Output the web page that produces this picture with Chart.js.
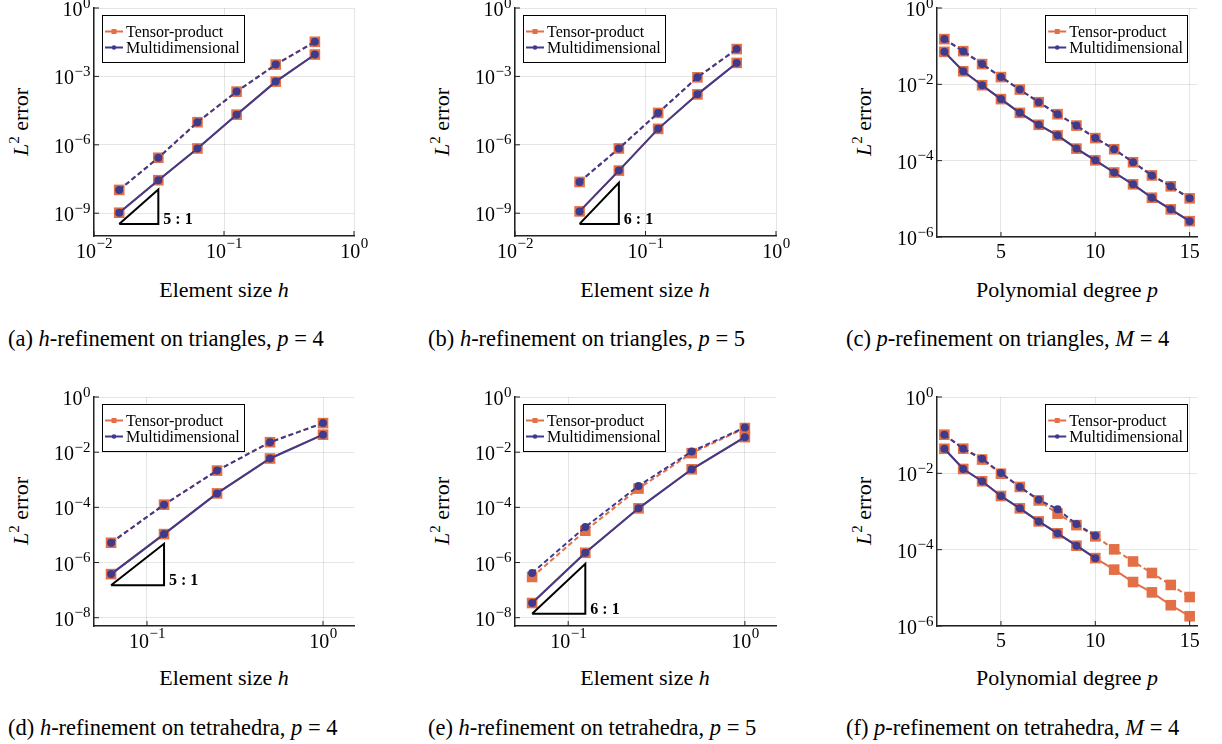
<!DOCTYPE html>
<html>
<head>
<meta charset="utf-8">
<script src="https://cdn.jsdelivr.net/npm/chart.js@4.4.0/dist/chart.umd.min.js"></script>
<style>
  body { margin: 0; background: #fff; width: 1222px; height: 744px; position: relative; overflow: hidden;
         font-family: "Liberation Serif", "Times New Roman", "DejaVu Serif", serif; color: #000; }
  canvas { position: absolute; }
  .lbl { position: absolute; white-space: nowrap; font-size: 22px; transform: translate(-50%, -50%); }
  .ylbl { transform: translate(-50%, -50%) rotate(-90deg); }
  .cap { position: absolute; white-space: nowrap; font-size: 22.5px; transform: translateY(-50%); }
  sup { font-size: 15px; }
</style>
</head>
<body>

<div class="lbl ylbl" style="left:20px;top:122px"><i>L</i><sup>2</sup> error</div>
<div class="lbl ylbl" style="left:441px;top:122px"><i>L</i><sup>2</sup> error</div>
<div class="lbl ylbl" style="left:863px;top:122px"><i>L</i><sup>2</sup> error</div>
<div class="lbl ylbl" style="left:20px;top:511px"><i>L</i><sup>2</sup> error</div>
<div class="lbl ylbl" style="left:441px;top:511px"><i>L</i><sup>2</sup> error</div>
<div class="lbl ylbl" style="left:863px;top:511px"><i>L</i><sup>2</sup> error</div>

<div class="lbl" style="left:224px;top:290px">Element size <i>h</i></div>
<div class="lbl" style="left:645px;top:290px">Element size <i>h</i></div>
<div class="lbl" style="left:1067px;top:290px">Polynomial degree <i>p</i></div>
<div class="lbl" style="left:224px;top:678px">Element size <i>h</i></div>
<div class="lbl" style="left:645px;top:678px">Element size <i>h</i></div>
<div class="lbl" style="left:1067px;top:678px">Polynomial degree <i>p</i></div>

<div class="cap" style="left:8px;top:339px">(a) <i>h</i>-refinement on triangles, <i>p</i> = 4</div>
<div class="cap" style="left:428px;top:339px">(b) <i>h</i>-refinement on triangles, <i>p</i> = 5</div>
<div class="cap" style="left:846px;top:339px">(c) <i>p</i>-refinement on triangles, <i>M</i> = 4</div>
<div class="cap" style="left:8px;top:728px">(d) <i>h</i>-refinement on tetrahedra, <i>p</i> = 4</div>
<div class="cap" style="left:428px;top:728px">(e) <i>h</i>-refinement on tetrahedra, <i>p</i> = 5</div>
<div class="cap" style="left:846px;top:728px">(f) <i>p</i>-refinement on tetrahedra, <i>M</i> = 4</div>

<canvas id="chartA"></canvas>
<canvas id="chartB"></canvas>
<canvas id="chartC"></canvas>
<canvas id="chartD"></canvas>
<canvas id="chartE"></canvas>
<canvas id="chartF"></canvas>

<script>
const orange = '#E36F47';
const purple = '#3F3B8C';
const legendLabels = ['Tensor-product', 'Multidimensional'];
const serif = '"Liberation Serif", "Times New Roman", "DejaVu Serif", serif';

// mesh sizes and polynomial degrees
const hTri4 = [1/64, 1/32, 1/16, 1/8, 1/4, 1/2];
const hTri5 = [1/32, 1/16, 1/8, 1/4, 1/2];
const hTet = [1/16, 1/8, 1/4, 1/2, 1];
const degrees = [2, 3, 4, 5, 6, 7, 8, 9, 10, 11, 12, 13, 14, 15];
const degreesTet = [2, 3, 4, 5, 6, 7, 8, 9, 10];

// (a) triangles, p = 4
const aSolidTensor = [1.05e-9, 2.8e-8, 6.9e-7, 2.1e-5, 5.9e-4, 9.1e-3];
const aSolidMulti  = [1.05e-9, 2.8e-8, 6.9e-7, 2.1e-5, 5.9e-4, 9.1e-3];
const aDashTensor  = [1.05e-8, 2.7e-7, 9.8e-6, 2.15e-4, 3.3e-3, 3.3e-2];
const aDashMulti   = [1.05e-8, 2.7e-7, 9.8e-6, 2.15e-4, 3.3e-3, 3.3e-2];

// (b) triangles, p = 5
const bSolidTensor = [1.2e-9, 7.4e-8, 5.0e-6, 1.63e-4, 3.9e-3];
const bSolidMulti  = [1.2e-9, 7.4e-8, 5.0e-6, 1.63e-4, 3.9e-3];
const bDashTensor  = [2.35e-8, 6.9e-7, 2.5e-5, 9.1e-4, 1.58e-2];
const bDashMulti   = [2.35e-8, 6.9e-7, 2.5e-5, 9.1e-4, 1.58e-2];

// (c) triangles, M = 4
const cSolidTensor = [7.1e-2, 2.2e-2, 9.5e-3, 4.1e-3, 1.79e-3, 8.7e-4, 4.6e-4, 2.07e-4, 1.02e-4, 4.9e-5, 2.4e-5, 1.07e-5, 5.3e-6, 2.6e-6];
const cSolidMulti  = [7.1e-2, 2.2e-2, 9.5e-3, 4.1e-3, 1.79e-3, 8.7e-4, 4.6e-4, 2.07e-4, 1.02e-4, 4.9e-5, 2.4e-5, 1.07e-5, 5.3e-6, 2.6e-6];
const cDashTensor  = [0.153, 7.4e-2, 3.4e-2, 1.55e-2, 7.3e-3, 3.4e-3, 1.65e-3, 8.3e-4, 3.9e-4, 1.99e-4, 9.1e-5, 4.1e-5, 2.13e-5, 1.03e-5];
const cDashMulti   = [0.153, 7.4e-2, 3.4e-2, 1.55e-2, 7.3e-3, 3.4e-3, 1.65e-3, 8.3e-4, 3.9e-4, 1.99e-4, 9.1e-5, 4.1e-5, 2.13e-5, 1.03e-5];

// (d) tetrahedra, p = 4
const dSolidTensor = [3.8e-7, 1.07e-5, 3.2e-4, 5.9e-3, 4.3e-2];
const dSolidMulti  = [3.8e-7, 1.07e-5, 3.2e-4, 5.9e-3, 4.3e-2];
const dDashTensor  = [5.2e-6, 1.25e-4, 2.15e-3, 2.3e-2, 0.113];
const dDashMulti   = [5.2e-6, 1.25e-4, 2.15e-3, 2.3e-2, 0.113];

// (e) tetrahedra, p = 5
const eSolidTensor = [3.4e-8, 2.25e-6, 9.2e-5, 2.4e-3, 3.5e-2];
const eSolidMulti  = [3.4e-8, 2.25e-6, 9.2e-5, 2.4e-3, 3.5e-2];
const eDashTensor  = [3.0e-7, 1.42e-5, 4.8e-4, 9.2e-3, 7.5e-2];
const eDashMulti   = [4.2e-7, 1.93e-5, 6.0e-4, 1.06e-2, 7.9e-2];

// (f) tetrahedra, M = 4 (multidimensional stops at p = 10)
const fSolidTensor = [4.4e-2, 1.3e-2, 6.2e-3, 2.55e-3, 1.21e-3, 5.5e-4, 2.68e-4, 1.27e-4, 6.0e-5, 3.0e-5, 1.42e-5, 7.6e-6, 3.5e-6, 1.8e-6];
const fSolidMulti  = [4.4e-2, 1.3e-2, 6.2e-3, 2.55e-3, 1.21e-3, 5.5e-4, 2.68e-4, 1.27e-4, 6.0e-5];
const fDashTensor  = [0.103, 4.43e-2, 2.3e-2, 9.8e-3, 4.4e-3, 1.95e-3, 8.8e-4, 4.4e-4, 2.23e-4, 1.02e-4, 4.9e-5, 2.45e-5, 1.19e-5, 5.75e-6];
const fDashMulti   = [0.103, 4.43e-2, 2.42e-2, 1.02e-2, 4.4e-3, 2.04e-3, 1.14e-3, 4.7e-4, 2.33e-4];

// ticks
const xTicksTri = [1e-2, 1e-1, 1e0];
const yTicksTri = [1e0, 1e-3, 1e-6, 1e-9];
const xTicksTet = [1e-1, 1e0];
const yTicksTet = [1e0, 1e-2, 1e-4, 1e-6, 1e-8];
const xTicksDeg = [5, 10, 15];
const yTicksDeg = [1e0, 1e-2, 1e-4, 1e-6];

const bigFont = '20px ' + serif;
const smallFont = '15px ' + serif;

function powLabel(ctx, x, baseY, expY, v, align) {
  const e = Math.round(Math.log10(v));
  const es = e < 0 ? '\u2212' + (-e) : String(e);
  ctx.font = bigFont;
  const w1 = ctx.measureText('10').width;
  ctx.font = smallFont;
  const w2 = ctx.measureText(es).width;
  const x0 = align === 'right' ? x - w1 - w2 : x - (w1 + w2) / 2;
  ctx.textAlign = 'left';
  ctx.textBaseline = 'alphabetic';
  ctx.font = bigFont;
  ctx.fillText('10', x0, baseY);
  ctx.font = smallFont;
  ctx.fillText(es, x0 + w1 + 0.5, expY);
}

const panelPlugin = {
  id: 'panelDecor',
  afterDraw(chart) {
    const o = chart.options.plugins.panelDecor;
    const ctx = chart.ctx;
    const a = chart.chartArea;
    const xs = chart.scales.x, ys = chart.scales.y;
    ctx.save();
    ctx.fillStyle = '#000';
    ctx.strokeStyle = '#222';
    ctx.lineWidth = 1;
    // inward tick marks and labels
    ys.ticks.forEach(t => {
      const py = ys.getPixelForValue(t.value);
      ctx.beginPath(); ctx.moveTo(a.left, py); ctx.lineTo(a.left + 5, py); ctx.stroke();
      powLabel(ctx, a.left - 4, py + 8, py - 0.5, t.value, 'right');
    });
    xs.ticks.forEach(t => {
      const px = xs.getPixelForValue(t.value);
      ctx.beginPath(); ctx.moveTo(px, a.bottom); ctx.lineTo(px, a.bottom - 5); ctx.stroke();
      if (o.xLog) {
        powLabel(ctx, px, a.bottom + 22, a.bottom + 11.5, t.value, 'center');
      } else {
        ctx.font = bigFont; ctx.textAlign = 'center'; ctx.textBaseline = 'alphabetic';
        ctx.fillText(String(t.value), px, a.bottom + 20.5);
      }
    });
    // slope label
    if (o.slope) {
      const s = o.slope;
      ctx.font = 'bold 16px ' + serif;
      ctx.textAlign = 'left'; ctx.textBaseline = 'alphabetic';
      ctx.fillText(s.rate + ' : 1', xs.getPixelForValue(s.x1) + 5, ys.getPixelForValue(s.y0));
    }
    // legend box
    ctx.font = '16px ' + serif;
    const tw = Math.max(...legendLabels.map(l => ctx.measureText(l).width));
    const w = 24 + tw + 4, h = 47;
    const bx = o.legend === 'left' ? a.left + 8 : a.right - 10 - w;
    const by = a.top + 7;
    ctx.fillStyle = '#fff';
    ctx.fillRect(bx, by, w, h);
    ctx.strokeStyle = '#000';
    ctx.strokeRect(Math.round(bx) + 0.5, Math.round(by) + 0.5, Math.round(w), h);
    [orange, purple].forEach((c, i) => {
      const ry = by + 16.5 + i * 16;
      ctx.strokeStyle = c; ctx.fillStyle = c; ctx.lineWidth = 2;
      ctx.beginPath(); ctx.moveTo(bx + 3, ry); ctx.lineTo(bx + 21, ry); ctx.stroke();
      if (i === 0) ctx.fillRect(bx + 9.5, ry - 2.5, 5, 5);
      else { ctx.beginPath(); ctx.arc(bx + 12, ry, 2.3, 0, Math.PI * 2); ctx.fill(); }
      ctx.fillStyle = '#000';
      ctx.textAlign = 'left'; ctx.textBaseline = 'middle';
      ctx.fillText(legendLabels[i], bx + 24, ry + 1);
    });
    ctx.restore();
  }
};

function line(xs, ys, color, dashed, marker) {
  return {
    data: ys.map((y, i) => ({ x: xs[i], y: y })),
    borderColor: color,
    backgroundColor: color,
    borderWidth: 2,
    borderDash: dashed ? [5, 3] : [],
    pointStyle: marker,
    pointRadius: marker === 'rect' ? 7.5 : 4,
    pointBorderWidth: 0,
    pointHoverRadius: 0,
    order: marker === 'rect' ? 2 : 1,
    clip: false
  };
}

function slopeTriangle(s) {
  const y1 = s.y0 * Math.pow(s.x1 / s.x0, s.rate);
  return {
    data: [{ x: s.x0, y: s.y0 }, { x: s.x1, y: s.y0 }, { x: s.x1, y: y1 }, { x: s.x0, y: s.y0 }],
    borderColor: '#000', borderWidth: 2, pointRadius: 0, order: 0, clip: false
  };
}

function makePanel(id, area, cfg) {
  const padL = 94, padT = 16, padR = 24, padB = 34;
  const cv = document.getElementById(id);
  cv.style.left = (area.left - padL) + 'px';
  cv.style.top = (area.top - padT) + 'px';
  cv.width = area.right - area.left + padL + padR;
  cv.height = area.bottom - area.top + padT + padB;

  const datasets = [
    line(cfg.x, cfg.solidTensor, orange, false, 'rect'),
    line(cfg.x, cfg.dashTensor, orange, true, 'rect'),
    line(cfg.xMulti || cfg.x, cfg.solidMulti, purple, false, 'circle'),
    line(cfg.xMulti || cfg.x, cfg.dashMulti, purple, true, 'circle')
  ];
  if (cfg.slope) datasets.push(slopeTriangle(cfg.slope));

  const grid = { color: 'rgba(0,0,0,0.1)', lineWidth: 1, drawTicks: false };
  const border = { display: true, color: '#222', width: 1.5 };
  new Chart(cv, {
    type: 'line',
    data: { datasets: datasets },
    plugins: [panelPlugin],
    options: {
      responsive: false,
      animation: false,
      events: [],
      layout: { padding: { left: padL, top: padT, right: padR, bottom: padB } },
      plugins: {
        legend: { display: false },
        tooltip: { enabled: false },
        panelDecor: { legend: cfg.legend, slope: cfg.slope, xLog: cfg.xType === 'logarithmic' }
      },
      scales: {
        x: {
          type: cfg.xType, min: cfg.xMin, max: cfg.xMax,
          grid: grid, border: border, ticks: { display: false },
          afterBuildTicks: s => { s.ticks = cfg.xTicks.map(v => ({ value: v })); },
          afterFit: s => { s.height = 0; }
        },
        y: {
          type: 'logarithmic', min: cfg.yMin, max: cfg.yMax,
          grid: grid, border: border, ticks: { display: false },
          afterBuildTicks: s => { s.ticks = cfg.yTicks.map(v => ({ value: v })); },
          afterFit: s => { s.width = 0; }
        }
      }
    }
  });
}

makePanel('chartA', { left: 94, top: 8, right: 354, bottom: 236 }, {
  x: hTri4, solidTensor: aSolidTensor, dashTensor: aDashTensor, solidMulti: aSolidMulti, dashMulti: aDashMulti,
  xType: 'logarithmic', xMin: 1e-2, xMax: 1, yMin: 1e-10, yMax: 1,
  xTicks: xTicksTri, yTicks: yTicksTri, legend: 'left',
  slope: { x0: 1/64, x1: 1/32, y0: 3.4e-10, rate: 5 }
});
makePanel('chartB', { left: 515, top: 8, right: 776, bottom: 236 }, {
  x: hTri5, solidTensor: bSolidTensor, dashTensor: bDashTensor, solidMulti: bSolidMulti, dashMulti: bDashMulti,
  xType: 'logarithmic', xMin: 1e-2, xMax: 1, yMin: 1e-10, yMax: 1,
  xTicks: xTicksTri, yTicks: yTicksTri, legend: 'left',
  slope: { x0: 1/32, x1: 1/16, y0: 3.4e-10, rate: 6 }
});
makePanel('chartC', { left: 937, top: 8, right: 1197, bottom: 237 }, {
  x: degrees, solidTensor: cSolidTensor, dashTensor: cDashTensor, solidMulti: cSolidMulti, dashMulti: cDashMulti,
  xType: 'linear', xMin: 1.61, xMax: 15.39, yMin: 1e-6, yMax: 1,
  xTicks: xTicksDeg, yTicks: yTicksDeg, legend: 'right'
});
makePanel('chartD', { left: 94, top: 397, right: 354, bottom: 626 }, {
  x: hTet, solidTensor: dSolidTensor, dashTensor: dDashTensor, solidMulti: dSolidMulti, dashMulti: dDashMulti,
  xType: 'logarithmic', xMin: 0.05, xMax: 1.5, yMin: 5e-9, yMax: 1,
  xTicks: xTicksTet, yTicks: yTicksTet, legend: 'left',
  slope: { x0: 1/16, x1: 1/8, y0: 1.5e-7, rate: 5 }
});
makePanel('chartE', { left: 515, top: 397, right: 776, bottom: 626 }, {
  x: hTet, solidTensor: eSolidTensor, dashTensor: eDashTensor, solidMulti: eSolidMulti, dashMulti: eDashMulti,
  xType: 'logarithmic', xMin: 0.05, xMax: 1.5, yMin: 5e-9, yMax: 1,
  xTicks: xTicksTet, yTicks: yTicksTet, legend: 'left',
  slope: { x0: 1/16, x1: 1/8, y0: 1.4e-8, rate: 6 }
});
makePanel('chartF', { left: 937, top: 397, right: 1197, bottom: 626 }, {
  x: degrees, xMulti: degreesTet, solidTensor: fSolidTensor, dashTensor: fDashTensor, solidMulti: fSolidMulti, dashMulti: fDashMulti,
  xType: 'linear', xMin: 1.61, xMax: 15.39, yMin: 1e-6, yMax: 1,
  xTicks: xTicksDeg, yTicks: yTicksDeg, legend: 'right'
});
</script>
</body>
</html>
